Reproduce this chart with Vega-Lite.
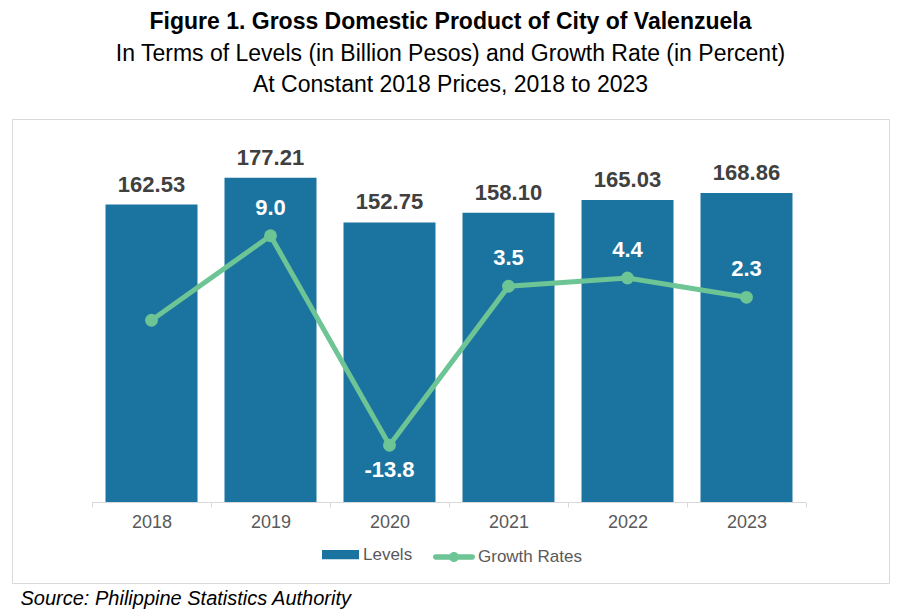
{
  "$schema": "https://vega.github.io/schema/vega-lite/v6.json",
  "width": 877,
  "height": 464,
  "autosize": {"type": "none"},
  "padding": {"left": 12, "top": 119, "right": 13, "bottom": 33},
  "background": "white",
  "config": {
    "font": "Liberation Sans",
    "view": {"stroke": "#d9d9d9", "strokeWidth": 1}
  },
  "title": {
    "text": "Figure 1. Gross Domestic Product of City of Valenzuela",
    "subtitle": ["In Terms of Levels (in Billion Pesos) and Growth Rate (in Percent)", "At Constant 2018 Prices, 2018 to 2023"],
    "anchor": "middle",
    "fontSize": 23,
    "fontWeight": "bold",
    "color": "#000000",
    "subtitleFontSize": 23,
    "subtitleFontWeight": "normal",
    "subtitleColor": "#000000",
    "subtitleLineHeight": 31.5,
    "subtitlePadding": 8.5,
    "offset": 22
  },
  "data": {
    "values": [
      {"year": "2018", "levels": 162.53, "growth": -0.2, "growthLabel": null},
      {"year": "2019", "levels": 177.21, "growth": 9.0, "growthLabel": "9.0"},
      {"year": "2020", "levels": 152.75, "growth": -13.8, "growthLabel": "-13.8"},
      {"year": "2021", "levels": 158.10, "growth": 3.5, "growthLabel": "3.5"},
      {"year": "2022", "levels": 165.03, "growth": 4.4, "growthLabel": "4.4"},
      {"year": "2023", "levels": 168.86, "growth": 2.3, "growthLabel": "2.3"}
    ]
  },
  "encoding": {
    "x": {
      "field": "year",
      "type": "nominal",
      "scale": {"paddingInner": 0, "paddingOuter": 0.6849, "align": 0.4908},
      "title": "Source: Philippine Statistics Authority",
      "axis": {
        "offset": -81,
        "domain": false,
        "grid": false,
        "ticks": true,
        "tickBand": "extent",
        "tickColor": "#d9d9d9",
        "tickSize": 5,
        "labelAngle": 0,
        "labelFontSize": 18,
        "labelColor": "#595959",
        "labelPadding": 6,
        "titleFontSize": 20,
        "titleFontStyle": "italic",
        "titleFontWeight": "normal",
        "titleColor": "#000000",
        "titleAnchor": "start",
        "titleAlign": "left",
        "titleBaseline": "alphabetic",
        "titleX": 8,
        "titleY": 102
      }
    }
  },
  "layer": [
    {
      "encoding": {
        "y": {
          "field": "levels",
          "type": "quantitative",
          "scale": {"domain": [-44.26, 209.29], "nice": false, "zero": false},
          "axis": null
        }
      },
      "layer": [
        {
          "mark": {"type": "bar", "width": {"band": 0.7731}},
          "encoding": {
            "color": {
              "datum": "Levels",
              "type": "nominal",
              "scale": {"range": ["#1b74a0"]},
              "legend": {
                "orient": "none",
                "legendX": 310,
                "legendY": 417,
                "title": null,
                "symbolType": "M-1,-0.25H1V0.25H-1Z",
                "symbolSize": 1369,
                "symbolStrokeWidth": 0,
                "labelFontSize": 17,
                "labelColor": "#595959",
                "labelOffset": 4,
                "padding": 0
              }
            }
          }
        },
        {
          "mark": {"type": "bar", "width": {"band": 1}, "color": "#d9d9d9"},
          "encoding": {
            "y": {"datum": 0, "type": "quantitative"},
            "y2": {"datum": -0.55}
          }
        },
        {
          "mark": {"type": "text", "baseline": "alphabetic", "dy": -13, "fontSize": 22, "fontWeight": "bold", "color": "#404040"},
          "encoding": {
            "text": {"field": "levels", "type": "quantitative", "format": ".2f"}
          }
        }
      ]
    },
    {
      "encoding": {
        "y": {
          "field": "growth",
          "type": "quantitative",
          "scale": {"domain": [-28.80, 21.71], "nice": false, "zero": false},
          "axis": null
        }
      },
      "layer": [
        {
          "mark": {"type": "line", "color": "#6dc494", "strokeWidth": 5}
        },
        {
          "mark": {"type": "point", "filled": true, "size": 165, "opacity": 1},
          "encoding": {
            "color": {
              "datum": "Growth Rates",
              "type": "nominal",
              "scale": {"range": ["#6dc494"]},
              "legend": {
                "orient": "none",
                "legendX": 421,
                "legendY": 417,
                "title": null,
                "symbolType": "M-0.874,-0.126H0.874A0.126,0.126 0 0 1 0.874,0.126H-0.874A0.126,0.126 0 0 1 -0.874,-0.126Z M0.238,0A0.238,0.238 0 1 1 -0.238,0A0.238,0.238 0 1 1 0.238,0Z",
                "symbolSize": 1764,
                "symbolStrokeWidth": 0,
                "symbolOpacity": 1,
                "labelFontSize": 17,
                "labelColor": "#595959",
                "labelOffset": 3,
                "padding": 0
              }
            }
          }
        },
        {
          "transform": [{"filter": "isValid(datum.growthLabel) && datum.growth >= 0"}],
          "mark": {"type": "text", "baseline": "alphabetic", "dy": -21, "fontSize": 22, "fontWeight": "bold", "color": "#ffffff"},
          "encoding": {"text": {"field": "growthLabel"}}
        },
        {
          "transform": [{"filter": "isValid(datum.growthLabel) && datum.growth < 0"}],
          "mark": {"type": "text", "baseline": "alphabetic", "dy": 32, "fontSize": 22, "fontWeight": "bold", "color": "#ffffff"},
          "encoding": {"text": {"field": "growthLabel"}}
        }
      ]
    }
  ],
  "resolve": {"scale": {"y": "independent", "color": "independent"}}
}
